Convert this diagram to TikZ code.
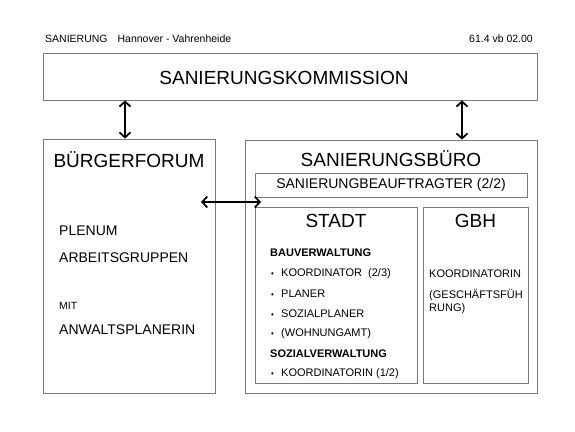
\documentclass[tikz,border=0pt]{standalone}
\usepackage{fontspec}
\setmainfont{Liberation Sans}
\usepackage{tikz}
\usetikzlibrary{arrows.meta}
\definecolor{boxgray}{HTML}{7A7A7A}
\newcommand{\fs}[1]{\fontsize{#1}{#1}\selectfont}
\newcommand{\itm}[1]{\makebox[11pt][l]{\hspace{1pt}\raisebox{0.5pt}{\fs{8}\textbullet}}#1}

\begin{document}
\begin{tikzpicture}[x=1pt, y=-1pt, font=\fs{11},
    box/.style={draw=boxgray, line width=0.8pt, inner sep=0pt, minimum width=#1},
    lbl/.style={anchor=west, inner sep=0pt},
    ttl/.style={inner sep=0pt, font=\fs{19}},
    biarr/.style={{Straight Barb[length=5pt,width=11pt]}-{Straight Barb[length=5pt,width=11pt]}, line width=1.8pt}]
    \useasboundingbox (0,0) rectangle (575,431);
    % header
    \node[lbl, font=\fs{10.5}] (hdr) at (45,39) {SANIERUNG\hspace{10pt}Hannover - Vahrenheide};
    \node[inner sep=0pt, anchor=east, font=\fs{10.5}] (ver) at (533,39) {61.4 vb 02.00};
    % boxes
    \node[box=494pt, minimum height=47pt] (komm)   at (290,76.5)  {};
    \node[box=172pt, minimum height=254pt] (forum) at (129,266)   {};
    \node[box=292pt, minimum height=253pt] (buero) at (391,266.5) {};
    \node[box=272pt, minimum height=24pt] (beauf)  at (391,185)   {};
    \node[box=162pt, minimum height=176pt] (stadt) at (336,295)   {};
    \node[box=105pt, minimum height=176pt] (gbh)   at (475.5,295) {};
    % titles
    \node[ttl] (kommT)  at (284,78)    {SANIERUNGSKOMMISSION};
    \node[ttl] (forumT) at (129,160)   {BÜRGERFORUM};
    \node[ttl] (bueroT) at (391,159)   {SANIERUNGSBÜRO};
    \node[ttl, font=\fs{14}] (beaufT) at (beauf.center) {SANIERUNGBEAUFTRAGTER (2/2)};
    \node[ttl] (stadtT) at (336,221)   {STADT};
    \node[ttl] (gbhT)   at (475.5,221) {GBH};
    % buergerforum
    \node[lbl, font=\fs{14}]   (plenum) at (59,231) {PLENUM};
    \node[lbl, font=\fs{14}]   (ag)     at (59,258) {ARBEITSGRUPPEN};
    \node[lbl, font=\fs{10.5}] (mit)    at (59,306) {MIT};
    \node[lbl, font=\fs{14}]   (anw)    at (59,330) {ANWALTSPLANERIN};
    % stadt
    \node[lbl, font=\bfseries\fs{11}] (bau) at (270,253) {BAUVERWALTUNG};
    \node[lbl] (koord)  at (270,274) {\itm{KOORDINATOR\ \ (2/3)}};
    \node[lbl] (plan)   at (270,294) {\itm{PLANER}};
    \node[lbl] (sozpl)  at (270,314) {\itm{SOZIALPLANER}};
    \node[lbl] (wohn)   at (270,334) {\itm{(WOHNUNGAMT)}};
    \node[lbl, font=\bfseries\fs{11}] (soz) at (270,354) {SOZIALVERWALTUNG};
    \node[lbl] (koordin) at (270,374) {\itm{KOORDINATORIN (1/2)}};
    % gbh
    \node[lbl] (gbhk) at (429,274) {KOORDINATORIN};
    \node[anchor=north west, inner sep=0pt, align=left, font=\fontsize{11}{13}\selectfont] (gf) at (429,289.5) {(GESCHÄFTSFÜH\\RUNG)};
    % arrows
    \coordinate (kf) at (125,0);
    \coordinate (kb) at (462,0);
    \coordinate (fbl) at (201,202);
    \coordinate (fbr) at (261,202);
    \draw[biarr] (kf |- komm.south) -- (kf |- forum.north);
    \draw[biarr] (kb |- komm.south) -- (kb |- buero.north);
    \draw[biarr] (fbl) -- (fbr);
\end{tikzpicture}
\end{document}
